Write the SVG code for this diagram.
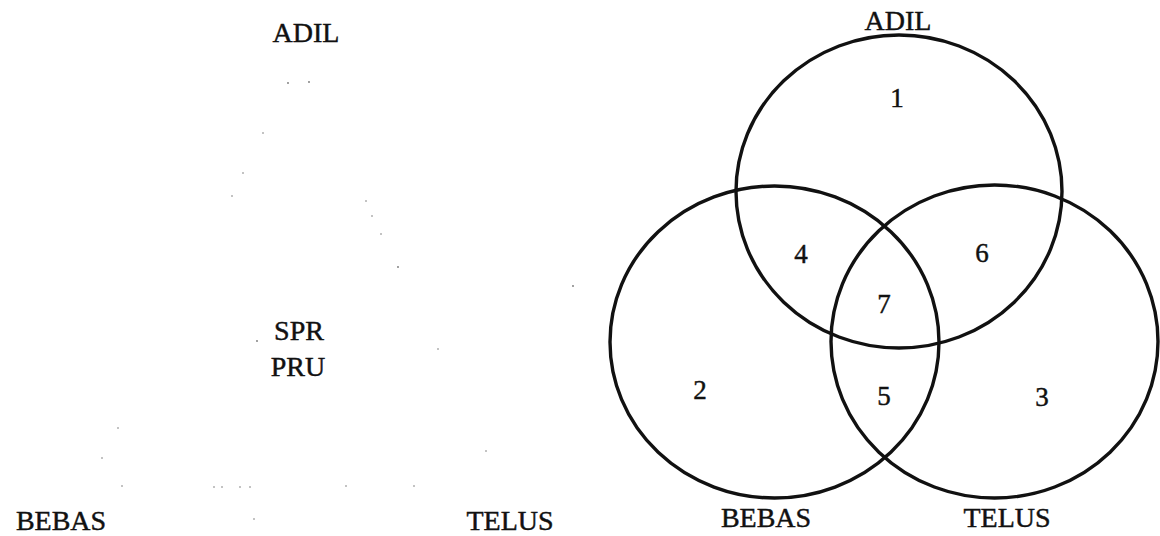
<svg xmlns="http://www.w3.org/2000/svg" width="1160" height="536" viewBox="0 0 1160 536">
<style>
text{font-family:'Liberation Serif','Times New Roman','DejaVu Serif',serif;fill:#111;stroke:#111;stroke-width:0.45;text-anchor:middle}
.lbl{font-size:28px}
.num{font-size:27px}
.set{fill:none;stroke:#111;stroke-width:3.4}
.speck{fill:#777}
</style>
<rect width="1160" height="536" fill="#fff"/>
<g id="left-diagram">
<text class="lbl" x="306" y="42">ADIL</text>
<text class="lbl" x="299" y="340">SPR</text>
<text class="lbl" x="298" y="376">PRU</text>
<text class="lbl" x="61" y="530">BEBAS</text>
<text class="lbl" x="510" y="530">TELUS</text>
<g id="specks">
<circle class="speck" cx="288" cy="83" r="0.9"/>
<circle class="speck" cx="309" cy="82" r="0.9"/>
<circle class="speck" cx="263" cy="133" r="0.8"/>
<circle class="speck" cx="243" cy="173" r="0.8"/>
<circle class="speck" cx="232" cy="196" r="0.8"/>
<circle class="speck" cx="366" cy="201" r="0.8"/>
<circle class="speck" cx="372" cy="216" r="0.8"/>
<circle class="speck" cx="381" cy="234" r="0.8"/>
<circle class="speck" cx="398" cy="267" r="0.9"/>
<circle class="speck" cx="573" cy="286" r="0.9"/>
<circle class="speck" cx="257" cy="341" r="0.9"/>
<circle class="speck" cx="438" cy="349" r="0.8"/>
<circle class="speck" cx="118" cy="428" r="0.8"/>
<circle class="speck" cx="102" cy="458" r="0.8"/>
<circle class="speck" cx="122" cy="486" r="0.8"/>
<circle class="speck" cx="214" cy="487" r="0.8"/>
<circle class="speck" cx="222" cy="487" r="0.8"/>
<circle class="speck" cx="240" cy="487" r="0.8"/>
<circle class="speck" cx="250" cy="487" r="0.8"/>
<circle class="speck" cx="346" cy="486" r="0.8"/>
<circle class="speck" cx="414" cy="486" r="0.8"/>
<circle class="speck" cx="486" cy="451" r="0.8"/>
<circle class="speck" cx="254" cy="519" r="0.8"/>
</g>
</g>
<g id="venn">
<g id="set-adil">
<ellipse class="set" cx="899" cy="191.5" rx="163" ry="156.5"/>
<text class="lbl" x="898" y="30">ADIL</text>
</g>
<g id="set-bebas">
<ellipse class="set" cx="774.5" cy="342" rx="164.5" ry="156"/>
<text class="lbl" x="766" y="527">BEBAS</text>
</g>
<g id="set-telus">
<ellipse class="set" cx="994.5" cy="341.5" rx="163.5" ry="156.5"/>
<text class="lbl" x="1007" y="527">TELUS</text>
</g>
<g id="regions">
<text class="num" x="897" y="107">1</text>
<text class="num" x="700" y="399">2</text>
<text class="num" x="1042" y="406">3</text>
<text class="num" x="801" y="263">4</text>
<text class="num" x="884" y="405">5</text>
<text class="num" x="982" y="262">6</text>
<text class="num" x="884" y="313">7</text>
</g>
</g>
</svg>
